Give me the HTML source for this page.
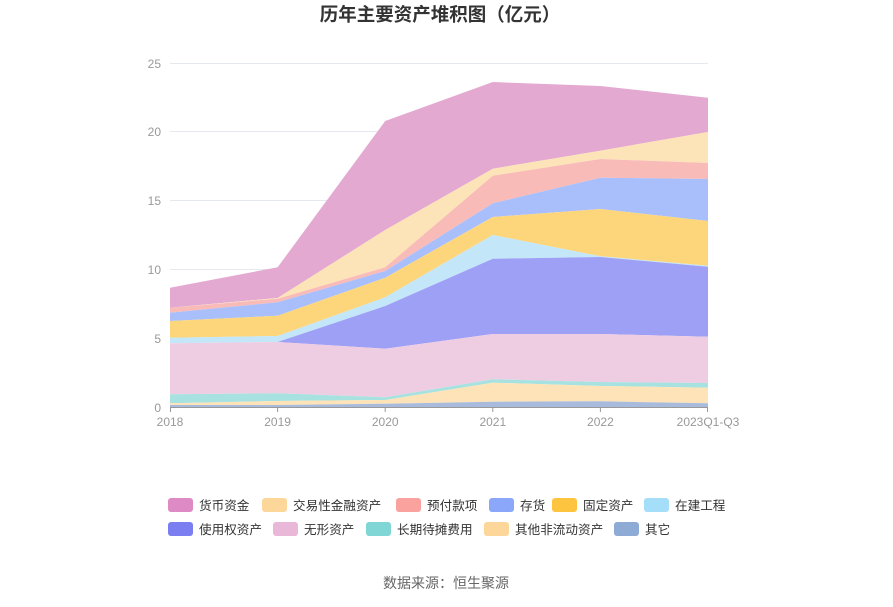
<!DOCTYPE html>
<html><head><meta charset="utf-8"><style>
body{margin:0;background:#fff;font-family:"Liberation Sans","Noto Sans CJK SC",sans-serif;}
</style></head><body>
<svg width="893" height="602" xmlns="http://www.w3.org/2000/svg" font-family="Liberation Sans, Noto Sans CJK SC, sans-serif">
<text x="440" y="21" text-anchor="middle" font-size="18.5" font-weight="bold" fill="#333">历年主要资产堆积图（亿元）</text>
<g stroke="#e6e8f0" stroke-width="1">
<line x1="170" x2="708" y1="63.5" y2="63.5"/><line x1="170" x2="708" y1="131.5" y2="131.5"/><line x1="170" x2="708" y1="200.5" y2="200.5"/><line x1="170" x2="708" y1="269.5" y2="269.5"/><line x1="170" x2="708" y1="338.5" y2="338.5"/>
</g>
<g font-size="12" fill="#999" text-anchor="end">
<text x="161" y="68">25</text><text x="161" y="136">20</text><text x="161" y="205">15</text><text x="161" y="274">10</text><text x="161" y="343">5</text><text x="161" y="412">0</text>
</g>
<g id="areas">
<polygon fill="#e3a9d1" points="170,287.7 277.6,267.3 385.2,121 492.8,82 600.4,86 708,97.7 708,132 600.4,150.7 492.8,168.7 385.2,230 277.6,298 170,307.7"/>
<polygon fill="#fde4b8" points="170,307.7 277.6,298 385.2,230 492.8,168.7 600.4,150.7 708,132 708,163 600.4,159 492.8,175.7 385.2,267.3 277.6,298.7 170,307.7"/>
<polygon fill="#f9bbb8" points="170,307.7 277.6,298.7 385.2,267.3 492.8,175.7 600.4,159 708,163 708,179 600.4,177.7 492.8,203.3 385.2,271 277.6,302.3 170,312.7"/>
<polygon fill="#a8bffc" points="170,312.7 277.6,302.3 385.2,271 492.8,203.3 600.4,177.7 708,179 708,221 600.4,209 492.8,217 385.2,277.7 277.6,315.7 170,321"/>
<polygon fill="#fdd67c" points="170,321 277.6,315.7 385.2,277.7 492.8,217 600.4,209 708,221 708,265.7 600.4,256.3 492.8,235 385.2,297.3 277.6,336 170,337.7"/>
<polygon fill="#c3e6f8" points="170,337.7 277.6,336 385.2,297.3 492.8,235 600.4,256.3 708,265.7 708,266.7 600.4,257 492.8,258.7 385.2,306 277.6,342 170,343.3"/>
<polygon fill="#9ea0f5" points="170,343.3 277.6,342 385.2,306 492.8,258.7 600.4,257 708,266.7 708,336.7 600.4,334 492.8,334 385.2,348.7 277.6,342 170,343.3"/>
<polygon fill="#eecde3" points="170,343.3 277.6,342 385.2,348.7 492.8,334 600.4,334 708,336.7 708,383 600.4,382 492.8,379.3 385.2,397.3 277.6,393.3 170,394.3"/>
<polygon fill="#a8e2e0" points="170,394.3 277.6,393.3 385.2,397.3 492.8,379.3 600.4,382 708,383 708,387.7 600.4,386 492.8,382.7 385.2,400 277.6,401 170,403.3"/>
<polygon fill="#fde3b7" points="170,403.3 277.6,401 385.2,400 492.8,382.7 600.4,386 708,387.7 708,403.3 600.4,401.3 492.8,401.7 385.2,403.7 277.6,405 170,405"/>
<polygon fill="#a9bbdc" points="170,405 277.6,405 385.2,403.7 492.8,401.7 600.4,401.3 708,403.3 708,407 170,407"/>
</g>
<line x1="170" x2="708" y1="407.5" y2="407.5" stroke="#999"/>
<g stroke="#999"><line x1="170.5" x2="170.5" y1="407" y2="412"/><line x1="277.6" x2="277.6" y1="407" y2="412"/><line x1="385.2" x2="385.2" y1="407" y2="412"/><line x1="492.8" x2="492.8" y1="407" y2="412"/><line x1="600.4" x2="600.4" y1="407" y2="412"/><line x1="707.5" x2="707.5" y1="407" y2="412"/></g>
<g font-size="12" fill="#999" text-anchor="middle">
<text x="170" y="426">2018</text><text x="277.6" y="426">2019</text><text x="385.2" y="426">2020</text><text x="492.8" y="426">2021</text><text x="600.4" y="426">2022</text><text x="708" y="426">2023Q1-Q3</text>
</g>
<g font-size="12.6" fill="#333">
<rect x="168" y="498" width="25" height="14" rx="3" fill="#de8bc5"/><text x="199" y="510">货币资金</text>
<rect x="262" y="498" width="25" height="14" rx="3" fill="#fdd79a"/><text x="293" y="510">交易性金融资产</text>
<rect x="396" y="498" width="25" height="14" rx="3" fill="#f9a29e"/><text x="427" y="510">预付款项</text>
<rect x="489" y="498" width="25" height="14" rx="3" fill="#8aa7f9"/><text x="520" y="510">存货</text>
<rect x="552" y="498" width="25" height="14" rx="3" fill="#fdc53f"/><text x="583" y="510">固定资产</text>
<rect x="644" y="498" width="25" height="14" rx="3" fill="#a5def9"/><text x="675" y="510">在建工程</text>
<rect x="168" y="522" width="25" height="14" rx="3" fill="#7b7ef0"/><text x="199" y="534">使用权资产</text>
<rect x="273" y="522" width="25" height="14" rx="3" fill="#e9b8d8"/><text x="304" y="534">无形资产</text>
<rect x="366" y="522" width="25" height="14" rx="3" fill="#80d6d4"/><text x="397" y="534">长期待摊费用</text>
<rect x="484" y="522" width="25" height="14" rx="3" fill="#fdd79a"/><text x="515" y="534">其他非流动资产</text>
<rect x="614" y="522" width="25" height="14" rx="3" fill="#8eabd6"/><text x="645" y="534">其它</text>
</g>
<text x="446" y="588" text-anchor="middle" font-size="14" fill="#666">数据来源：恒生聚源</text>
</svg>
</body></html>
